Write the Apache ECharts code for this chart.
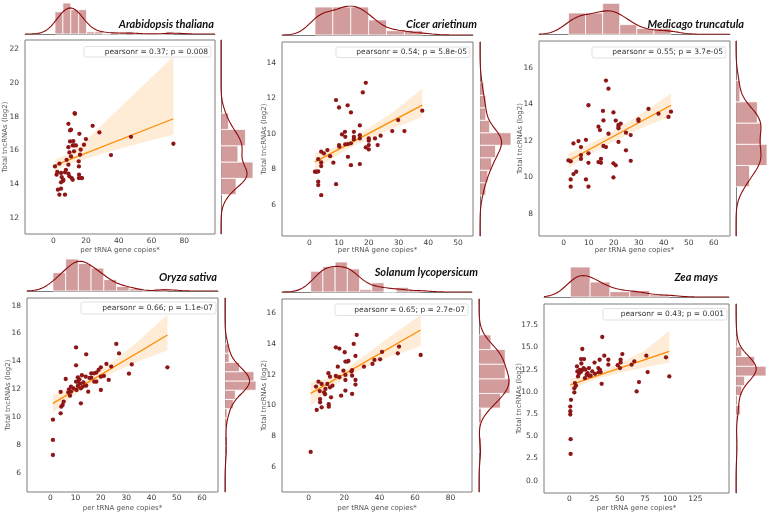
<!DOCTYPE html>
<html><head><meta charset="utf-8">
<script src="https://cdn.jsdelivr.net/npm/echarts@6/dist/echarts.min.js"></script>
<style>html,body{margin:0;padding:0;background:#fff}#c{width:770px;height:515px}</style>
</head><body><div id="c"></div>
<script>
// ---------------- DATA ----------------
const titles = ['Arabidopsis thaliana','Cicer arietinum','Medicago truncatula','Oryza sativa','Solanum lycopersicum','Zea mays'];
const stats = ['pearsonr = 0.37; p = 0.008','pearsonr = 0.54; p = 5.8e-05','pearsonr = 0.55; p = 3.7e-05','pearsonr = 0.66; p = 1.1e-07','pearsonr = 0.65; p = 2.7e-07','pearsonr = 0.43; p = 0.001'];
const xName = 'per tRNA gene copies*';
const yName = 'Total tncRNAs (log2)';

const arabPts = [[1.0,15.05],[2.4,14.72],[2.0,14.56],[3.7,15.21],[4.7,14.66],[5.1,14.42],[6.0,14.20],[4.7,14.11],[6.1,14.26],[2.8,13.67],[4.7,13.73],[3.7,13.38],[7.1,13.38],[7.1,14.70],[7.7,14.85],[8.1,15.44],[9.2,14.62],[9.2,15.15],[9.8,14.46],[9.2,16.19],[9.2,17.57],[10.2,17.18],[10.8,17.22],[10.2,16.53],[9.8,15.88],[10.8,15.64],[11.2,14.36],[11.8,14.26],[11.8,16.29],[12.2,16.55],[13.0,18.20],[13.2,18.16],[12.6,16.29],[13.8,16.29],[15.7,14.56],[15.6,14.36],[15.6,15.05],[15.5,15.35],[15.9,16.98],[16.3,15.74],[16.7,16.04],[17.1,14.36],[17.5,14.36],[18.7,16.33],[19.9,16.67],[24.0,17.45],[28.1,17.06],[35.2,15.72],[47.4,16.80],[73.3,16.39],[12.6,15.94]];
const cicerPts = [[1.9,7.86],[2.5,7.86],[3.0,7.88],[3.0,7.30],[3.0,7.11],[4.0,6.54],[3.0,8.57],[4.0,8.38],[4.0,8.18],[4.0,8.99],[4.9,8.89],[6.1,9.08],[7.0,8.74],[8.1,8.37],[9.0,11.90],[9.0,7.16],[10.0,11.48],[10.0,9.36],[10.1,9.27],[11.0,9.96],[12.0,10.11],[12.1,9.83],[12.1,9.40],[12.9,11.60],[13.0,9.42],[13.0,8.70],[14.0,11.20],[14.0,8.23],[14.0,9.46],[15.0,10.11],[15.0,9.83],[15.0,9.68],[17.0,10.47],[17.0,9.92],[17.0,9.74],[17.0,8.29],[18.0,12.33],[19.0,12.87],[19.0,9.23],[20.0,9.74],[20.0,9.61],[20.0,9.36],[20.0,9.12],[22.1,9.74],[23.0,9.36],[24.0,9.89],[27.9,10.15],[29.9,10.77],[32.0,10.15],[38.0,11.30]];
const medicPts = [[1.9,10.92],[2.8,10.87],[2.8,9.88],[2.8,9.48],[3.9,10.17],[3.9,11.85],[5.9,11.98],[6.9,11.65],[6.9,11.21],[6.9,11.0],[8.9,12.05],[8.9,9.88],[9.9,13.94],[9.9,11.31],[9.9,10.79],[9.9,9.48],[13.9,12.77],[13.9,10.83],[14.5,12.58],[14.9,11.0],[14.9,10.79],[15.7,13.63],[15.9,13.11],[15.9,11.71],[16.9,11.65],[16.9,15.29],[17.9,14.85],[17.9,12.38],[19.9,13.55],[19.9,10.76],[19.9,9.99],[20.8,13.10],[20.8,10.65],[21.9,11.93],[21.9,12.86],[21.9,12.68],[22.8,12.93],[24.9,12.44],[24.9,11.47],[26.8,12.31],[26.8,10.90],[29.9,13.17],[29.9,13.08],[33.9,13.74],[37.9,13.48],[41.9,13.30],[42.9,13.59],[5.0,10.3],[21.9,12.77]];
const oryzaPts = [[1.05,9.81],[1.05,8.35],[1.05,7.27],[4.1,11.80],[4.1,10.26],[4.35,10.74],[4.9,10.86],[5.3,11.10],[6.1,12.73],[7.1,11.77],[7.4,11.99],[7.8,11.53],[8.2,12.18],[8.2,11.82],[9.2,12.06],[10.2,15.0],[10.2,13.71],[10.2,12.54],[10.4,11.94],[10.9,12.85],[10.9,12.23],[10.9,12.54],[12.1,10.98],[12.1,12.06],[13.1,12.49],[14.2,14.50],[14.2,12.25],[15.0,11.82],[16.2,13.14],[16.2,12.83],[17.3,13.14],[17.4,12.54],[18.2,13.19],[18.2,12.54],[19.1,13.38],[20.0,13.57],[20.0,11.94],[20.0,12.90],[21.2,12.95],[22.2,13.81],[23.1,12.66],[24.1,13.62],[26.1,15.25],[27.2,14.57],[31.1,13.11],[32.2,13.78],[46.3,13.57],[11.5,12.7],[12.5,13.0],[13.0,12.2],[14.0,12.9],[15.5,12.8],[11.8,12.4]];
const solanPts = [[1.1,6.96],[4.1,11.22],[4.5,9.70],[5.5,11.54],[6.2,10.93],[6.4,10.41],[6.4,10.20],[7.3,11.39],[7.3,9.87],[8.7,10.85],[9.2,10.72],[9.4,11.07],[10.5,11.39],[11.1,12.09],[11.3,10.07],[11.3,9.91],[12.0,11.87],[12.0,11.17],[12.6,10.52],[15.3,13.78],[15.3,11.91],[13.4,11.28],[16.4,12.52],[17.3,13.70],[17.3,11.83],[18.3,10.63],[19.6,12.26],[20.3,13.46],[20.7,12.85],[20.7,11.98],[20.7,11.65],[20.7,10.96],[21.8,12.85],[22.4,12.89],[24.1,12.20],[24.5,12.30],[24.5,11.93],[24.5,10.74],[25.4,14.0],[26.4,13.22],[26.4,11.65],[26.4,11.35],[27.1,14.59],[31.2,12.52],[36.0,12.70],[37.1,12.96],[40.3,13.0],[41.4,13.48],[50.3,13.39],[51.0,13.83],[63.2,13.28]];
const zeaPts = [[1.3,3.01],[1.3,4.67],[1.0,7.45],[1.0,7.83],[1.0,8.35],[1.7,9.11],[5.0,9.94],[5.0,10.42],[5.6,10.99],[6.6,10.69],[7.6,12.87],[8.6,11.74],[9.6,12.04],[10.3,12.49],[11.6,13.70],[11.6,12.27],[12.9,14.83],[13.2,12.49],[14.2,12.68],[14.6,13.70],[15.5,11.55],[17.2,11.93],[18.2,12.12],[19.5,11.82],[19.5,12.68],[21.2,11.82],[22.8,12.31],[25.5,12.04],[28.8,12.68],[30.1,13.62],[30.4,12.49],[31.1,12.23],[32.1,10.91],[32.7,16.18],[34.7,14.08],[38.7,13.06],[38.7,13.62],[50.3,12.68],[50.9,13.32],[50.9,13.62],[52.6,14.26],[61.8,13.06],[64.5,13.44],[66.8,10.05],[69.1,11.10],[76.4,14.08],[77.7,12.23],[95.9,13.89],[99.2,11.74],[8.0,12.3],[12.0,13.2],[16.0,12.5],[25.0,13.3],[29.0,12.2],[48.0,13.0]];

// regression line end points [x, y]
const arabLine = [[1.0,15.11],[73.3,17.87]];
const cicerLine = [[1.9,8.42],[38.0,11.61]];
const medicLine = [[1.9,10.90],[42.9,13.94]];
const oryzaLine = [[1.05,10.98],[46.3,15.89]];
const solanLine = [[1.1,10.78],[63.2,14.91]];
const zeaLine = [[1.0,10.80],[99.2,14.56]];

// confidence band read at a few x: [x, low, high]
const arabBand = [[1,14.8,15.45],[10,15.2,15.85],[20,15.5,16.6],[35,15.95,18.0],[50,16.35,19.4],[73.3,16.92,21.55]];
const cicerBand = [[1.9,7.95,8.9],[8,8.65,9.2],[14,9.22,9.72],[20,9.72,10.32],[28,10.3,11.2],[38,10.95,12.55]];
const medicBand = [[1.9,10.5,11.3],[8,11.05,11.65],[17,11.75,12.3],[25,12.3,12.95],[33,12.8,13.65],[42.9,13.35,14.6]];
const oryzaBand = [[1.05,10.3,11.6],[8,11.4,12.05],[15,12.2,12.75],[25,13.2,14.0],[35,14.0,15.5],[46.3,14.8,17.35]];
const solanBand = [[1.1,9.95,11.5],[10,10.95,11.75],[20,11.75,12.3],[30,12.35,13.1],[45,13.15,14.4],[63.2,13.85,15.9]];
const zeaBand = [[1.0,10.15,11.55],[15,10.95,11.7],[30,11.55,12.25],[50,12.15,13.2],[75,12.75,14.7],[99.2,13.3,16.9]];

// tick labels
const arabXTicks = [0,20,40,60,80], arabYTicks = [12,14,16,18,20,22];
const cicerXTicks = [0,10,20,30,40,50], cicerYTicks = [6,8,10,12,14];
const medicXTicks = [0,10,20,30,40,50,60], medicYTicks = [8,10,12,14,16];
const oryzaXTicks = [0,10,20,30,40,50,60], oryzaYTicks = [6,8,10,12,14,16,18];
const solanXTicks = [0,20,40,60,80], solanYTicks = [6,8,10,12,14,16];
const zeaXTicks = [0,25,50,75,100,125], zeaYTicks = [0,2.5,5,7.5,10,12.5,15,17.5];

// histogram bin counts [x bins, y bins]
const arabBins = [15,5], cicerBins = [6,9], medicBins = [6,5], oryzaBins = [9,12], solanBins = [9,8], zeaBins = [5,12];

// ---------------- LAYOUT ----------------
const layouts = [
 {main:[25,40,215,234], xr:[-17.3,98.7], yr:[11.05,22.53], top:[3,34], right:[221,253], title:[214,24], stat:[84,46.5,211,57], yn:5, xnY:250, lm:3, yd:0},
 {main:[282,42,473,236], xr:[-9.18,55.06], yr:[4.24,15.17], top:[6,35], right:[480,511], title:[477,24], stat:[336,47,470,57.5], yn:264, xnY:250, lm:3, yd:0},
 {main:[539,41,730,236], xr:[-9.88,66.5], yr:[6.78,17.46], top:[3.3,34.3], right:[736,767], title:[744,24], stat:[592,47,726,58], yn:520, xnY:250, lm:3, yd:0},
 {main:[27,298,218,492], xr:[-9.2,66.3], yr:[4.61,18.55], top:[259,291], right:[225,256], title:[217,277], stat:[81,302,216,314], yn:8.3, xnY:508, lm:2, yd:0},
 {main:[282,299,472,492], xr:[-15.1,92.2], yr:[4.35,16.93], top:[262,292], right:[479,510], title:[478,272], stat:[335,304,468,315.5], yn:264, xnY:508, lm:2, yd:0},
 {main:[544,304,729,493], xr:[-25.1,158.4], yr:[-1.39,19.9], top:[267,297], right:[736,766], title:[718,277], stat:[603,308.5,727,320], yn:519, xnY:508, lm:2, yd:1}
];

const pts = [arabPts,cicerPts,medicPts,oryzaPts,solanPts,zeaPts];
const lines = [arabLine,cicerLine,medicLine,oryzaLine,solanLine,zeaLine];
const bands = [arabBand,cicerBand,medicBand,oryzaBand,solanBand,zeaBand];
const xticks = [arabXTicks,cicerXTicks,medicXTicks,oryzaXTicks,solanXTicks,zeaXTicks];
const yticks = [arabYTicks,cicerYTicks,medicYTicks,oryzaYTicks,solanYTicks,zeaYTicks];
const bins = [arabBins,cicerBins,medicBins,oryzaBins,solanBins,zeaBins];

// ---------------- HELPERS ----------------
function hist(vals, nb){
  const mn = Math.min(...vals), mx = Math.max(...vals), w = (mx-mn)/nb;
  const c = new Array(nb).fill(0);
  vals.forEach(v => { let k = Math.floor((v-mn)/w); if (k >= nb) k = nb-1; if (k < 0) k = 0; c[k]++; });
  return c.map((n,i) => [mn+i*w, mn+(i+1)*w, n/(vals.length*w)]);
}
// Gaussian KDE with Scott's factor (n^-1/5 * sample std)
function kde(vals, lo, hi, m){
  const n = vals.length, mean = vals.reduce((a,b)=>a+b,0)/n;
  const sd = Math.sqrt(vals.reduce((a,b)=>a+(b-mean)*(b-mean),0)/(n-1));
  const bw = sd*Math.pow(n,-0.2);
  const out = [];
  for (let i = 0; i <= m; i++){
    const x = lo + (hi-lo)*i/m; let d = 0;
    for (const v of vals){ const z = (x-v)/bw; d += Math.exp(-0.5*z*z); }
    out.push([x, d/(n*bw*Math.sqrt(2*Math.PI))]);
  }
  return out;
}

const C_PT = '#8e1616', C_HIST = 'rgba(150,20,20,0.42)', C_KDE = '#8b0a0a', C_REG = '#ff8c00', C_BAND = 'rgba(255,150,30,0.18)', C_SPINE = '#7d7d7d', C_TXT = '#3c3c3c';
const FONT = 'DejaVu Sans';

const grid = [], xAxis = [], yAxis = [], series = [], graphic = [];

pts.forEach((P, k) => {
  const L = layouts[k];
  const [l,t,r,b] = L.main;
  const gi = grid.length;
  grid.push({left:l, top:t, width:r-l, height:b-t, show:true, borderColor:C_SPINE, borderWidth:1, backgroundColor:'rgba(0,0,0,0)'});
  grid.push({left:l, top:L.top[0], width:r-l, height:L.top[1]-L.top[0], show:false});
  grid.push({left:L.right[0], top:t, width:L.right[1]-L.right[0], height:b-t, show:false});

  const dec = L.yd;
  xAxis.push({gridIndex:gi, type:'value', min:L.xr[0], max:L.xr[1], axisLine:{show:false}, axisTick:{show:false}, splitLine:{show:false},
    axisLabel:{customValues:xticks[k], fontSize:7.5, color:C_TXT, fontFamily:FONT, margin:L.lm}});
  yAxis.push({gridIndex:gi, type:'value', min:L.yr[0], max:L.yr[1], axisLine:{show:false}, axisTick:{show:false}, splitLine:{show:false},
    axisLabel:{customValues:yticks[k], fontSize:7.5, color:C_TXT, fontFamily:FONT, margin:6, formatter:v => dec ? v.toFixed(dec) : String(v)}});

  const xs = P.map(p=>p[0]), ys = P.map(p=>p[1]);
  const hx = hist(xs, bins[k][0]), hy = hist(ys, bins[k][1]);
  const kx = kde(xs, L.xr[0], L.xr[1], 240), ky = kde(ys, L.yr[0], L.yr[1], 240);
  const topMax = Math.max(...hx.map(h=>h[2]), ...kx.map(p=>p[1]));
  const rightMax = Math.max(...hy.map(h=>h[2]), ...ky.map(p=>p[1]));

  xAxis.push({gridIndex:gi+1, type:'value', min:L.xr[0], max:L.xr[1], axisLine:{show:true, onZero:false, lineStyle:{color:C_SPINE, width:1}}, axisTick:{show:false}, axisLabel:{show:false}, splitLine:{show:false}});
  yAxis.push({gridIndex:gi+1, type:'value', min:0, max:topMax, show:false, splitLine:{show:false}});
  xAxis.push({gridIndex:gi+2, type:'value', min:0, max:rightMax, show:false, splitLine:{show:false}});
  yAxis.push({gridIndex:gi+2, type:'value', min:L.yr[0], max:L.yr[1], axisLine:{show:true, onZero:false, lineStyle:{color:C_SPINE, width:1}}, axisTick:{show:false}, axisLabel:{show:false}, splitLine:{show:false}});

  const band = bands[k];
  series.push({type:'custom', xAxisIndex:gi, yAxisIndex:gi, silent:true, z:1, data:band, clip:true,
    renderItem:(params, api) => {
      if (params.dataIndex !== 0) return null;
      const up = band.map(d => api.coord([d[0], d[2]]));
      const dn = band.map(d => api.coord([d[0], d[1]])).reverse();
      return {type:'polygon', shape:{points:up.concat(dn)}, style:{fill:C_BAND, stroke:null}};
    }});
  series.push({type:'line', xAxisIndex:gi, yAxisIndex:gi, data:lines[k], symbol:'none', silent:true, z:2, lineStyle:{color:C_REG, width:1.3}});
  series.push({type:'scatter', xAxisIndex:gi, yAxisIndex:gi, data:P, symbolSize:4.3, z:3, itemStyle:{color:C_PT, opacity:1}});

  series.push({type:'custom', xAxisIndex:gi+1, yAxisIndex:gi+1, data:hx, silent:true, z:1,
    renderItem:(params, api) => {
      const a = api.coord([api.value(0), 0]), c = api.coord([api.value(1), api.value(2)]);
      return {type:'rect', shape:{x:a[0], y:c[1], width:c[0]-a[0], height:a[1]-c[1]}, style:{fill:C_HIST, stroke:'#fff', lineWidth:0.8}};
    }, encode:{x:[0,1], y:2}});
  series.push({type:'line', xAxisIndex:gi+1, yAxisIndex:gi+1, data:kx, symbol:'none', silent:true, z:2, lineStyle:{color:C_KDE, width:1.1}});
  series.push({type:'custom', xAxisIndex:gi+2, yAxisIndex:gi+2, data:hy, silent:true, z:1,
    renderItem:(params, api) => {
      const a = api.coord([0, api.value(0)]), c = api.coord([api.value(2), api.value(1)]);
      return {type:'rect', shape:{x:a[0], y:c[1], width:c[0]-a[0], height:a[1]-c[1]}, style:{fill:C_HIST, stroke:'#fff', lineWidth:0.8}};
    }, encode:{x:2, y:[0,1]}});
  series.push({type:'line', xAxisIndex:gi+2, yAxisIndex:gi+2, data:ky.map(p=>[p[1], p[0]]), symbol:'none', silent:true, z:2, lineStyle:{color:C_KDE, width:1.1}});

  graphic.push({type:'text', x:L.title[0], y:L.title[1], style:{text:titles[k], align:'right', verticalAlign:'middle', textAlign:'right', textVerticalAlign:'middle', font:'italic bold 11px Lato', fill:'#111'}});
  const s = L.stat;
  graphic.push({type:'rect', shape:{x:s[0], y:s[1], width:s[2]-s[0], height:s[3]-s[1], r:2}, style:{fill:'rgba(255,255,255,0.85)', stroke:'#d9d9d9', lineWidth:0.8}, z:10});
  graphic.push({type:'text', x:s[2]-3, y:(s[1]+s[3])/2, z:11, style:{text:stats[k], align:'right', verticalAlign:'middle', textAlign:'right', textVerticalAlign:'middle', font:'7.5px "DejaVu Sans"', fill:'#333'}});
  graphic.push({type:'text', x:(l+r)/2, y:L.xnY, style:{text:xName, align:'center', verticalAlign:'middle', textAlign:'center', textVerticalAlign:'middle', font:'7px "DejaVu Sans"', fill:'#555'}});
  graphic.push({type:'text', x:L.yn, y:(t+b)/2, rotation:Math.PI/2, style:{text:yName, align:'center', verticalAlign:'middle', textAlign:'center', textVerticalAlign:'middle', font:'7px "DejaVu Sans"', fill:'#555'}});
});

const chart = echarts.init(document.getElementById('c'), null, {renderer:'canvas', width:770, height:515});
chart.setOption({animation:false, backgroundColor:'#fff', grid, xAxis, yAxis, series, graphic});
</script>
</body></html>
